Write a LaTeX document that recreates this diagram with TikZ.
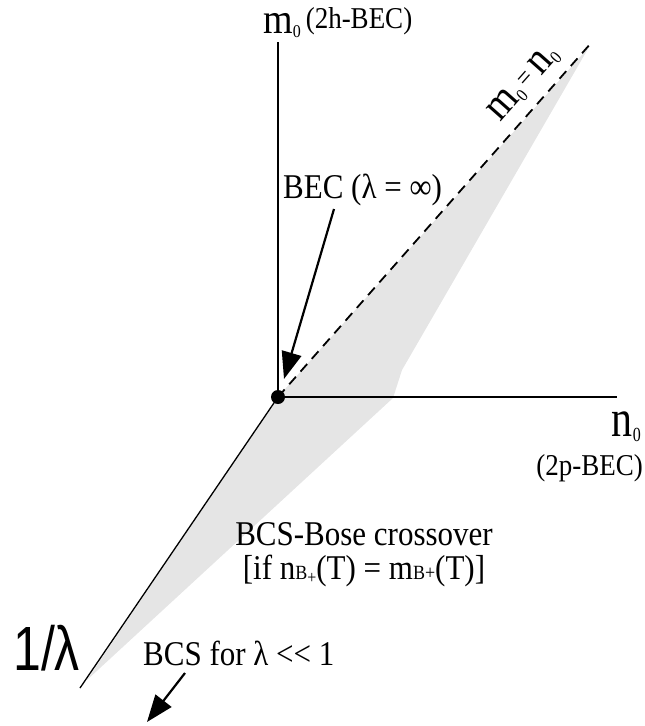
\documentclass[tikz,border=0pt]{standalone}
\usepackage{fontspec}
\setmainfont{Liberation Serif}
\newfontfamily\sansf{Liberation Sans}
\usetikzlibrary{arrows.meta}
\newcommand\vs[1]{\scalebox{1}[1.12]{#1}}
\newcommand\fs[1]{\fontsize{#1}{#1}\selectfont}
\newcommand\lowsub[2]{\raisebox{-#1pt}{\fs{16}#2}}
\definecolor{regiongray}{gray}{0.9}
\begin{document}
\begin{tikzpicture}[x=1pt,y=-1pt,
  axis/.style={line width=2pt},
  pointer/.style={line width=2.2pt,-{Triangle[length=27pt,width=20pt]}},
  lbl/.style={inner sep=0pt}]
\useasboundingbox (0,0) rectangle (645,726);
% coordinates
\coordinate (O) at (278,397);
\coordinate (ytop) at (278,42);
\coordinate (xend) at (617,397);
\coordinate (dtop) at (592,42);
\coordinate (lend) at (80,688);
% shaded region
\fill[regiongray] (87,680) -- (O) -- (589,47) -- (402,370) -- (393,398) -- cycle;
% axes
\draw[axis] (O) -- (ytop);
\draw[axis] (O) -- (xend);
\draw[line width=1.3pt] (O) -- (lend);
\draw[line width=1.8pt,dash pattern=on 10pt off 7pt] (O) -- (dtop);
\fill (O) circle[radius=7pt];
% labels
\node[lbl,anchor=base west] (mlab) at (263,33)
  {\vs{\fs{38}m\lowsub{4}{0}\hspace{5pt}\raisebox{4pt}{\fs{27}(2h-BEC)}}};
\node[lbl,anchor=base east] (nlab) at (641,436)
  {\scalebox{1}[1.25]{\fs{42}n\lowsub{4}{0}}};
\node[lbl,anchor=base east] (nbec) at (643,475) {\vs{\fs{27}(2p-BEC)}};
\node[lbl,rotate=48.5] (diag) at (524,84)
  {\vs{\fs{39}m\lowsub{4}{0}\hspace{5pt}\fs{24}\raisebox{3pt}{=}\hspace{5pt}\fs{39}n\lowsub{4}{0}}};
\node[lbl,anchor=base west] (bec) at (283,198) {\vs{\fs{31}BEC (λ = ∞)}};
\node[lbl,anchor=base] (cross) at (364,545)
  {\vs{\fs{31}\begin{tabular}[t]{@{}c@{}}BCS-Bose crossover\\
  {[}if n{\fs{18}B\raisebox{-3pt}{\fs{16}+}}(T) = m{\fs{18}B+}(T)]\end{tabular}}};
\node[lbl,anchor=base west] (bcs) at (143,665) {\vs{\fs{31}BCS for λ <{}< 1}};
\node[lbl,anchor=base west] (inv) at (13,670) {\scalebox{1}[1.25]{\sansf\fs{50}1/λ}};
% arrows
\coordinate (becstart) at (334,209);
\coordinate (becend) at (284,379);
\draw[pointer] (becstart) -- (becend);
\coordinate (bcsstart) at (185,673);
\coordinate (bcsend) at (147,722);
\draw[pointer] (bcsstart) -- (bcsend);
\end{tikzpicture}
\end{document}
